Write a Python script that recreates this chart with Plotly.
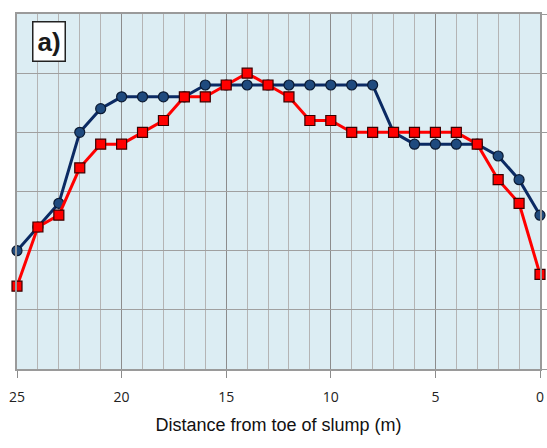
import plotly.graph_objects as go

# Distance from toe of slump (m)
distance = list(range(25, -1, -1))

# Profile values along the slump
series_a = [1.0, 1.2, 1.4, 2.0, 2.2, 2.3, 2.3, 2.3, 2.3, 2.4, 2.4, 2.4, 2.4,
            2.4, 2.4, 2.4, 2.4, 2.4, 2.0, 1.9, 1.9, 1.9, 1.9, 1.8, 1.6, 1.3]
series_b = [0.7, 1.2, 1.3, 1.7, 1.9, 1.9, 2.0, 2.1, 2.3, 2.3, 2.4, 2.5, 2.4,
            2.3, 2.1, 2.1, 2.0, 2.0, 2.0, 2.0, 2.0, 2.0, 1.9, 1.6, 1.4, 0.8]

x_ticks = [25, 20, 15, 10, 5, 0]

fig = go.Figure()
fig.add_trace(go.Scatter(
    x=distance, y=series_a, mode="lines+markers", cliponaxis=False,
    line=dict(color="#0b2a63", width=3),
    marker=dict(symbol="circle", size=10, color="#1f4a7e",
                line=dict(color="#0a1a33", width=1.2)),
    showlegend=False,
))
fig.add_trace(go.Scatter(
    x=distance, y=series_b, mode="lines+markers", cliponaxis=False,
    line=dict(color="#ff0000", width=3),
    marker=dict(symbol="square", size=10, color="#ff0000",
                line=dict(color="#3a0000", width=1.2)),
    showlegend=False,
))

fig.add_annotation(
    text="<b>a)</b>", xref="paper", yref="paper", x=0.029, y=0.922,
    xanchor="left", yanchor="middle", showarrow=False,
    font=dict(family="Liberation Sans, Arial", size=26, color="#1a1a1a"),
    bgcolor="white", bordercolor="#222222", borderwidth=1.5, borderpad=4,
)

fig.update_layout(
    width=547, height=448,
    margin=dict(l=17, r=7, t=14, b=79, autoexpand=False),
    paper_bgcolor="white", plot_bgcolor="#dcedf3",
    xaxis=dict(
        range=[25, 0], tickvals=x_ticks, ticks="outside", ticklen=7,
        tickcolor="#8c8c8c", showgrid=True, gridcolor="#8c8c8c", gridwidth=1,
        minor=dict(dtick=1, showgrid=True, gridcolor="#b4b4b4", gridwidth=1),
        zeroline=False, showline=True, linecolor="#9a9a9a", linewidth=1.5,
        mirror=True, automargin=False, ticklabelstandoff=7,
        tickfont=dict(family="Open Sans, Liberation Sans", size=14, color="#222222"),
        title=dict(text="Distance from toe of slump (m)", standoff=14,
                   font=dict(family="Liberation Sans, Arial", size=18, color="#111111")),
    ),
    yaxis=dict(
        range=[0, 3], dtick=0.5, side="right", ticks="outside", ticklen=7,
        tickcolor="#9a9a9a", showticklabels=False, showgrid=True,
        gridcolor="#a0a0a0", gridwidth=1.2, zeroline=False, showline=True,
        linecolor="#9a9a9a", linewidth=1.5, mirror=True, automargin=False,
    ),
)

fig.write_html("out.html")
